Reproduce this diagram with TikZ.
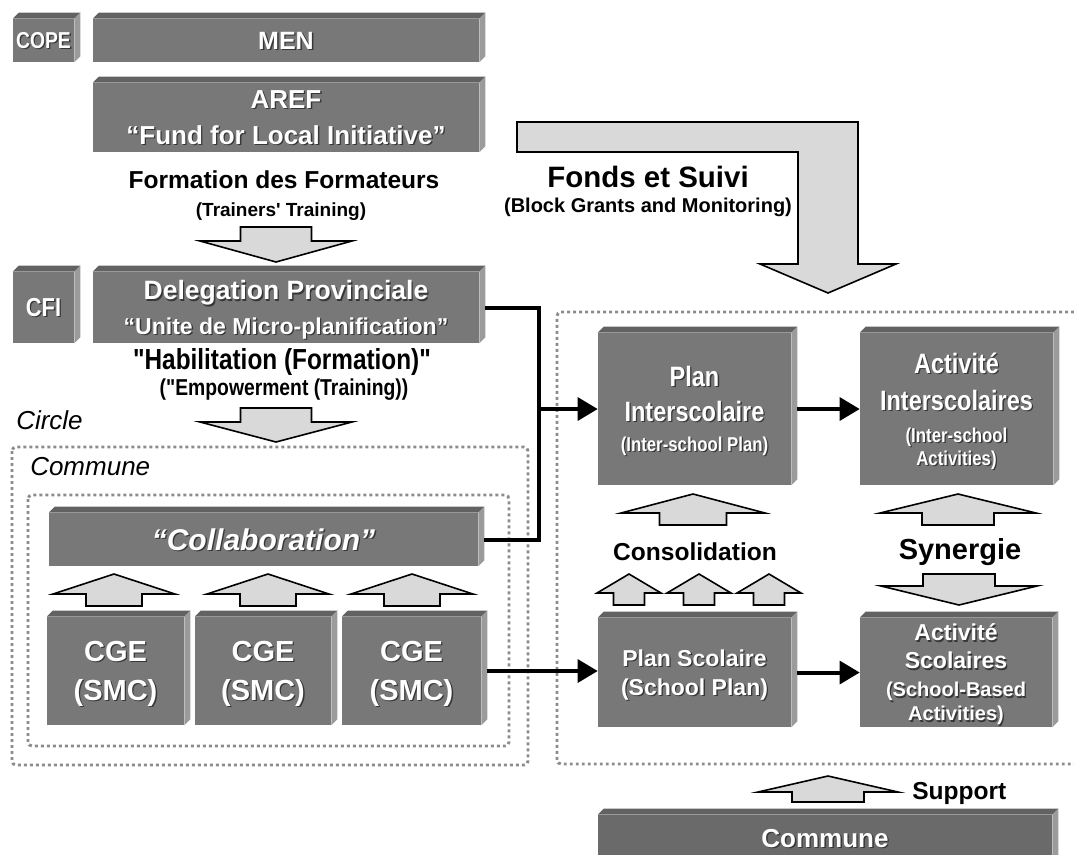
\documentclass[tikz,border=0pt]{standalone}
\usepackage{fontspec}
\setmainfont{Liberation Sans}[Ligatures=TeXOff]
\newfontfamily\nfont{Liberation Sans}[FakeStretch=0.84,Ligatures=TeXOff]
\usetikzlibrary{arrows.meta,calc}

\definecolor{slabfront}{RGB}{120,120,120}
\definecolor{slabtop}{RGB}{98,98,98}
\definecolor{slabside}{RGB}{155,155,155}
\definecolor{arrowfill}{RGB}{217,217,217}
\definecolor{dotgray}{RGB}{140,140,140}
\definecolor{shadowgray}{RGB}{55,55,55}

\tikzset{
  slab/.style={fill=slabfront, inner sep=0pt, text=white, align=center, font=\bfseries, text depth=0pt},
  fatarrow/.style={fill=arrowfill, draw=black, line width=1.2pt, line join=miter},
  zone/.style={draw=dotgray, line width=2.2pt, dash pattern=on 2.2pt off 2.3pt, rounded corners=3pt},
  link/.style={line width=3pt},
  linkhead/.style={-{Triangle[length=15pt,width=17pt]}},
  plaintext/.style={inner sep=0pt, font=\bfseries},
}

% white text with a drop shadow
\newcommand\sh[1]{\leavevmode\rlap{\raisebox{-1pt}{\hspace{1pt}\textcolor{shadowgray}{#1}}}#1}
% 3d slab: name, front face x0 y0 x1 y1 (px), text
\newcommand\slabd{6}
\newcommand\slab[7][]{%
  \node[slab, minimum width={(#5-#3)*0.75pt}, minimum height={(#6-#4)*0.75pt}, #1] (#2) at ({(#3+#5)/2},{(#4+#6)/2}) {#7};
  \fill[slabtop] (#2.north west) -- ++(\slabd,-\slabd) -- ([shift={(\slabd,-\slabd)}]#2.north east) -- (#2.north east) -- cycle;
  \fill[slabside] (#2.north east) -- ++(\slabd,-\slabd) -- ([shift={(\slabd,-\slabd)}]#2.south east) -- (#2.south east) -- cycle;
}
% block arrow: tip x, tip y, head half width, head length, shaft half width, total length
\newcommand\fatarr[6]{\draw[fatarrow] (#1,#2) -- +(#3,#4) -- +(#5,#4) -- +(#5,#6) -- +(-#5,#6) -- +(-#5,#4) -- +(-#3,#4) -- cycle;}

\begin{document}
\begin{tikzpicture}[x=0.75pt,y=-0.75pt]
  %%%%% START %%%%%
  \useasboundingbox (0,0) rectangle (1074,854);

  % dotted areas
  \draw[zone] (12,447) rectangle (528,765);
  \draw[zone] (28,495) rectangle (509,746);
  \draw[zone] (1074,312) -- (557,312) -- (557,764) -- (1074,764);

  % left column
  \slab[font=\nfont\bfseries\fontsize{17.25}{20}\selectfont]{cope}{13}{19}{74}{62}{\sh{COPE}}
  \slab[font=\bfseries\fontsize{18.75}{22}\selectfont]{men}{93}{19}{479}{62}{\sh{MEN}}
  \slab[font=\bfseries\fontsize{19.5}{27}\selectfont]{aref}{93}{83}{479}{152}{\sh{AREF}\\\sh{“Fund for Local Initiative”}}

  \node[plaintext, font=\bfseries\fontsize{18.4}{20}\selectfont] (formation) at (284,180) {Formation des Formateurs};
  \node[plaintext, font=\bfseries\fontsize{14.25}{16}\selectfont] (trainers) at (281,212) {(Trainers' Training)};
  \fatarr{276}{262}{76}{-21}{35.5}{-35}

  \slab[font=\nfont\bfseries\fontsize{19.5}{22}\selectfont]{cfi}{13}{272}{74}{343}{\sh{CFI}}
  \slab[font=\bfseries\fontsize{19.9}{26}\selectfont]{deleg}{93}{272}{479}{343}{\sh{Delegation Provinciale}\\{\fontsize{17.25}{20}\selectfont \sh{“Unite de Micro-planification”}}}

  \node[plaintext, font=\nfont\bfseries\fontsize{21.75}{24}\selectfont] (habil) at (282,362) {"Habilitation (Formation)"};
  \node[plaintext, font=\nfont\bfseries\fontsize{17.25}{20}\selectfont] (empower) at (284,390) {("Empowerment (Training))};
  \fatarr{276}{442}{76}{-20}{35.5}{-34}

  \node[anchor=west, inner sep=0pt, font=\itshape\fontsize{19.5}{22}\selectfont] (circlelbl) at (16,420) {Circle};
  \node[anchor=west, inner sep=0pt, font=\itshape\fontsize{19.5}{22}\selectfont] (communelbl) at (30,467) {Commune};

  \slab[font=\bfseries\itshape\fontsize{22.5}{26}\selectfont]{collab}{49}{513}{478}{566}{\sh{“Collaboration”}}
  \fatarr{114}{574}{61}{20}{28}{32}
  \fatarr{268}{574}{61}{20}{28}{32}
  \fatarr{412}{574}{61}{20}{28}{32}
  \slab[font=\bfseries\fontsize{21.75}{29.25}\selectfont]{cge1}{47}{617}{184}{725}{\sh{CGE}\\\sh{(SMC)}}
  \slab[font=\bfseries\fontsize{21.75}{29.25}\selectfont]{cge2}{195}{617}{331}{725}{\sh{CGE}\\\sh{(SMC)}}
  \slab[font=\bfseries\fontsize{21.75}{29.25}\selectfont]{cge3}{342}{617}{481}{725}{\sh{CGE}\\\sh{(SMC)}}

  % funds arrow
  \draw[fatarrow] (517,122) -- (858,122) -- (858,264) -- (896,264) -- (828,293) -- (760,264) -- (798,264) -- (798,152) -- (517,152) -- cycle;
  \node[plaintext, font=\bfseries\fontsize{22.1}{24}\selectfont] (fonds) at (648,177) {Fonds et Suivi};
  \node[plaintext, font=\bfseries\fontsize{15}{17}\selectfont] (grants) at (648,207) {(Block Grants and Monitoring)};

  % right side
  \slab[font=\nfont\bfseries\fontsize{21}{26.25}\selectfont]{pinter}{598}{333}{791}{485}{\sh{Plan}\\\sh{Interscolaire}\\[-3.75pt]{\fontsize{15}{17}\selectfont \sh{(Inter-school Plan)}}}
  \slab[font=\nfont\bfseries\fontsize{21}{27.75}\selectfont]{ainter}{860}{333}{1053}{485}{\sh{Activité}\\\sh{Interscolaires}\\[-3.75pt]{\fontsize{15}{17}\selectfont \sh{(Inter-school}}\\[-10.5pt]{\fontsize{15}{17}\selectfont \sh{Activities)}}}

  \fatarr{693}{494}{72}{19}{33.5}{31}
  \fatarr{958}{494}{78}{19}{36}{31}
  \node[plaintext, font=\bfseries\fontsize{18.4}{20}\selectfont] (consol) at (695,552) {Consolidation};
  \node[plaintext, font=\bfseries\fontsize{21.75}{24}\selectfont] (synerg) at (960,552) {Synergie};
  \fatarr{629}{574}{32}{19}{15.5}{31}
  \fatarr{699}{574}{32}{19}{15.5}{31}
  \fatarr{769}{574}{32}{19}{15.5}{31}
  \fatarr{959}{605}{78}{-19}{36}{-31}

  \slab[font=\bfseries\fontsize{17.25}{21.75}\selectfont]{pscol}{598}{618}{791}{727}{\sh{Plan Scolaire}\\\sh{(School Plan)}}
  \slab[font=\bfseries\fontsize{17.25}{21}\selectfont]{ascol}{860}{618}{1052}{727}{\sh{Activité}\\\sh{Scolaires}\\{\fontsize{15}{17}\selectfont \sh{(School-Based}}\\[-3pt]{\fontsize{15}{17}\selectfont \sh{Activities)}}}

  \fatarr{828}{776}{70}{16}{36}{26}
  \node[plaintext, anchor=west, font=\bfseries\fontsize{18.4}{20}\selectfont] (support) at (912,793) {Support};
  \slab[fill=slabfront!88!black, font=\bfseries\fontsize{19.5}{22}\selectfont]{commune}{598}{815}{1052}{861}{\sh{Commune}}

  % connectors
  \coordinate (jn) at (539,409);
  \draw[link] ([xshift=4.5pt]deleg.east) -| (jn);
  \draw[link] ([xshift=4.5pt]collab.east) -| (jn);
  \draw[link,linkhead] (jn) -- (pinter.west);
  \draw[link,linkhead] ([xshift=4.5pt]cge3.east) -- (cge3.east -| pscol.west);
  \draw[link,linkhead] ([xshift=4.5pt]pinter.east) -- (ainter.west);
  \draw[link,linkhead] ([xshift=4.5pt]pscol.east) -- (ascol.west);
  %%%%% END %%%%%
\end{tikzpicture}
\end{document}
